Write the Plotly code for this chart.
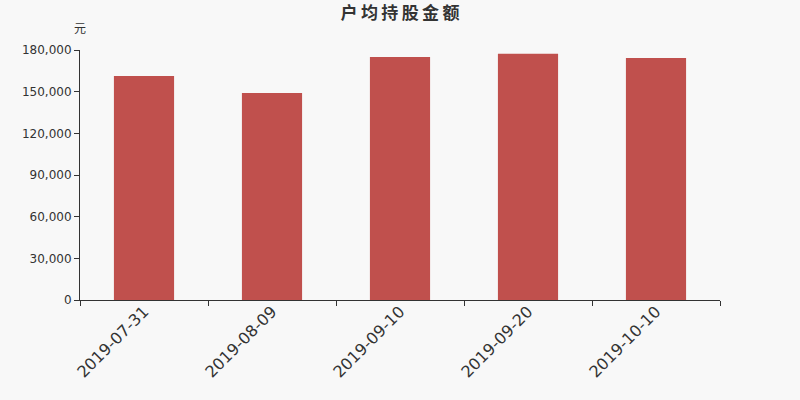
import plotly.graph_objects as go

# data
dates = ["2019-07-31", "2019-08-09", "2019-09-10", "2019-09-20", "2019-10-10"]
amounts = [161300, 149000, 175000, 177300, 174200]
y_ticks = [0, 30000, 60000, 90000, 120000, 150000, 180000]

title = "\u2009".join("户均持股金额")

bar_color = "#c0504d"
axis_color = "#333333"
bg = "#f8f8f8"

fig = go.Figure()
fig.add_trace(go.Bar(x=dates, y=amounts, marker=dict(color=bar_color, line=dict(width=0)),
                     hoverinfo="x+y"))

fig.update_layout(
    width=800, height=400,
    paper_bgcolor=bg, plot_bgcolor=bg,
    margin=dict(l=80, r=80, t=50, b=100, autoexpand=False),
    bargap=0.53,
    showlegend=False,
    font=dict(family="DejaVu Sans, Noto Sans CJK SC", color=axis_color),
    title=dict(text="<b>" + title + "</b>", x=0.5, xanchor="center", xref="paper",
               y=0.982, yanchor="top",
               font=dict(size=17, family="Noto Sans CJK SC", color=axis_color)),
    xaxis=dict(
        type="category",
        showline=True, linecolor=axis_color, linewidth=1,
        ticks="outside", tickson="boundaries", ticklen=5, tickcolor=axis_color,
        tickangle=-45, tickfont=dict(size=16, color=axis_color),
        ticklabelstandoff=-5,
        showgrid=False, zeroline=False,
    ),
    yaxis=dict(
        range=[0, 180000], tickvals=y_ticks, tickformat=",d",
        showline=True, linecolor=axis_color, linewidth=1,
        ticks="outside", ticklen=5, tickcolor=axis_color,
        tickfont=dict(size=12, color=axis_color),
        showgrid=False, zeroline=False,
    ),
    annotations=[dict(text="元", xref="paper", yref="paper", x=0, y=1.088,
                      xanchor="center", yanchor="middle", showarrow=False,
                      font=dict(size=12, family="Noto Sans CJK SC", color=axis_color))],
)

# drop the page's default body margin so the figure fills the window
fig.write_html("out.html", config={"displayModeBar": False},
               post_script="document.body.style.margin='0';document.body.style.background='%s';" % bg)
